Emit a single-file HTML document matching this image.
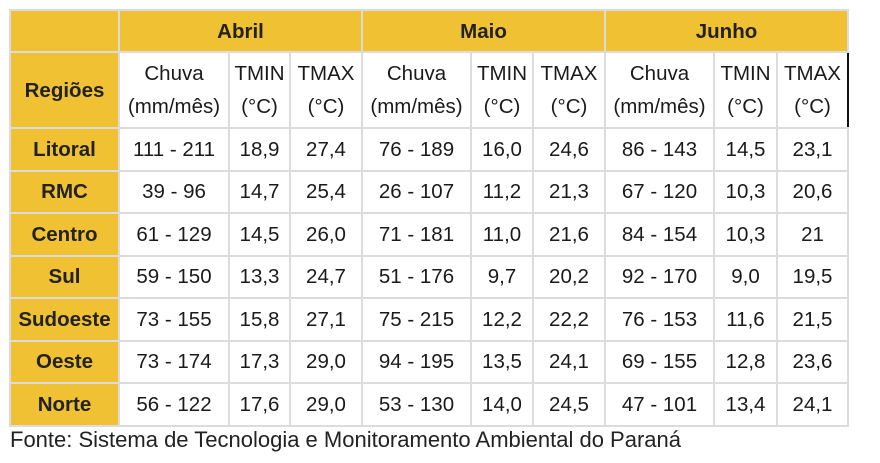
<!DOCTYPE html>
<html><head><meta charset="utf-8"><style>
body{margin:0;width:880px;height:463px;background:#fff;font-family:"Liberation Sans",sans-serif;color:#1a1a1a;position:relative;overflow:hidden}
table{position:absolute;left:9px;top:9px;border-collapse:collapse;table-layout:fixed}
td{border:2px solid #dcdcdc;text-align:center;font-size:20.5px;padding:0;line-height:33px}
.g{background:#f0c132;font-weight:bold;color:#222}
.m td{height:40px}
.h td{height:74px}
.r td{height:40.5px}
.f{position:absolute;left:10px;top:427px;font-size:22px;color:#222}
</style></head><body>
<table>
<colgroup><col style="width:109px"><col style="width:110px"><col style="width:61px"><col style="width:72px"><col style="width:109px"><col style="width:62px"><col style="width:72px"><col style="width:109px"><col style="width:63px"><col style="width:71px"></colgroup>
<tr class="m"><td class="g"></td><td class="g" colspan="3">Abril</td><td class="g" colspan="3">Maio</td><td class="g" colspan="3">Junho</td></tr>
<tr class="h"><td class="g">Regiões</td><td>Chuva<br>(mm/mês)</td><td>TMIN<br>(°C)</td><td>TMAX<br>(°C)</td><td>Chuva<br>(mm/mês)</td><td>TMIN<br>(°C)</td><td>TMAX<br>(°C)</td><td>Chuva<br>(mm/mês)</td><td>TMIN<br>(°C)</td><td style="border-right:2px solid #111">TMAX<br>(°C)</td></tr>
<tr class="r"><td class="g">Litoral</td><td>111 - 211</td><td>18,9</td><td>27,4</td><td>76 - 189</td><td>16,0</td><td>24,6</td><td>86 - 143</td><td>14,5</td><td>23,1</td></tr>
<tr class="r"><td class="g">RMC</td><td>39 - 96</td><td>14,7</td><td>25,4</td><td>26 - 107</td><td>11,2</td><td>21,3</td><td>67 - 120</td><td>10,3</td><td>20,6</td></tr>
<tr class="r"><td class="g">Centro</td><td>61 - 129</td><td>14,5</td><td>26,0</td><td>71 - 181</td><td>11,0</td><td>21,6</td><td>84 - 154</td><td>10,3</td><td>21</td></tr>
<tr class="r"><td class="g">Sul</td><td>59 - 150</td><td>13,3</td><td>24,7</td><td>51 - 176</td><td>9,7</td><td>20,2</td><td>92 - 170</td><td>9,0</td><td>19,5</td></tr>
<tr class="r"><td class="g">Sudoeste</td><td>73 - 155</td><td>15,8</td><td>27,1</td><td>75 - 215</td><td>12,2</td><td>22,2</td><td>76 - 153</td><td>11,6</td><td>21,5</td></tr>
<tr class="r"><td class="g">Oeste</td><td>73 - 174</td><td>17,3</td><td>29,0</td><td>94 - 195</td><td>13,5</td><td>24,1</td><td>69 - 155</td><td>12,8</td><td>23,6</td></tr>
<tr class="r"><td class="g">Norte</td><td>56 - 122</td><td>17,6</td><td>29,0</td><td>53 - 130</td><td>14,0</td><td>24,5</td><td>47 - 101</td><td>13,4</td><td>24,1</td></tr>
</table>
<div class="f">Fonte: Sistema de Tecnologia e Monitoramento Ambiental do Paraná</div>
</body></html>
